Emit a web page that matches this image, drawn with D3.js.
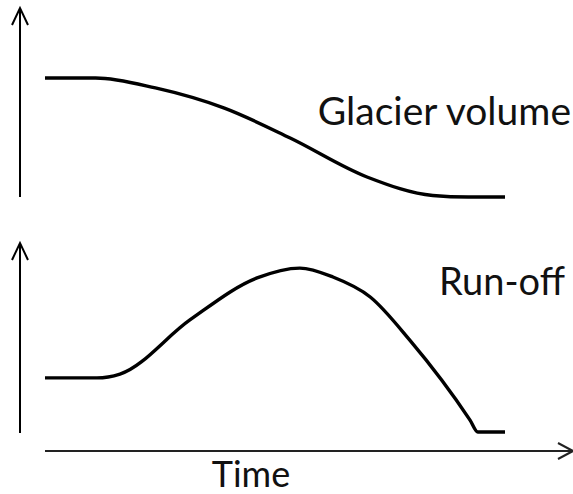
<!DOCTYPE html>
<html>
<head>
<meta charset="utf-8">
<script src="https://cdn.jsdelivr.net/npm/d3@7"></script>
<style>
  html, body { margin: 0; padding: 0; background: #fff; }
  text { font-family: Lato, 'Open Sans', sans-serif; fill: #111; }
</style>
</head>
<body>
<div id="glacier-chart"></div>
<script>
(function(d3) {
  'use strict';

  // time in arbitrary units (0-100)
  var volumeTime = [0, 11, 24, 39, 53.3, 70, 84.3, 92, 100];
  var volumeValues = [63, 63, 57.7, 47, 31.2, 10.6, 0.8, 0, 0];

  var runoffTime = [0, 11.3, 16.3, 31.5, 46.1, 55.4, 62.6, 70.7, 79.3, 92.4, 94.1, 100];
  var runoffValues = [29, 29, 31, 59.5, 81.6, 86.8, 82.1, 71.6, 48.9, 6.8, 0.5, 0.5];

  var labels = { volume: 'Glacier volume', runoff: 'Run-off', time: 'Time' };

  var width = 573;
  var height = 494;

  var svg = d3.select('#glacier-chart')
    .append('svg')
    .attr('width', width)
    .attr('height', height);

  var x = d3.scaleLinear().domain([0, 100]).range([45, 505]);
  var yTop = d3.scaleLinear().domain([0, 100]).range([197, 8]);
  var yBottom = d3.scaleLinear().domain([0, 100]).range([433, 243]);

  var axisX = 20;       // vertical axes position
  var baseY = 451;      // time axis position
  var baseEnd = 573;    // time axis arrow tip

  function zip(ts, vs) {
    return ts.map(function(t, i) { return { t: t, v: vs[i] }; });
  }

  // vertical arrows
  [yTop, yBottom].forEach(function(y) {
    var r = y.range();
    var g = svg.append('g')
      .attr('fill', 'none')
      .attr('stroke', '#000')
      .attr('stroke-width', 2);
    g.append('line')
      .attr('x1', axisX).attr('x2', axisX)
      .attr('y1', r[0]).attr('y2', r[1] + 1);
    g.append('path')
      .attr('d', 'M' + (axisX - 8) + ',' + (r[1] + 17) + 'L' + axisX + ',' + r[1] + 'L' + (axisX + 8) + ',' + (r[1] + 17));
  });

  // time arrow
  var tAxis = svg.append('g')
    .attr('fill', 'none')
    .attr('stroke', '#222')
    .attr('stroke-width', 2);
  tAxis.append('line')
    .attr('x1', x.range()[0]).attr('x2', baseEnd - 1)
    .attr('y1', baseY).attr('y2', baseY);
  tAxis.append('path')
    .attr('d', 'M' + (baseEnd - 15) + ',' + (baseY - 8) + 'L' + baseEnd + ',' + baseY + 'L' + (baseEnd - 15) + ',' + (baseY + 8));

  var lineTop = d3.line()
    .x(function(d) { return x(d.t); })
    .y(function(d) { return yTop(d.v); })
    .curve(d3.curveMonotoneX);

  var lineBottom = d3.line()
    .x(function(d) { return x(d.t); })
    .y(function(d) { return yBottom(d.v); })
    .curve(d3.curveMonotoneX);

  svg.append('path')
    .datum(zip(volumeTime, volumeValues))
    .attr('d', lineTop)
    .attr('fill', 'none')
    .attr('stroke', '#000')
    .attr('stroke-width', 3.4);

  svg.append('path')
    .datum(zip(runoffTime, runoffValues))
    .attr('d', lineBottom)
    .attr('fill', 'none')
    .attr('stroke', '#000')
    .attr('stroke-width', 3.4)
    .attr('stroke-linejoin', 'round');

  svg.append('text')
    .attr('x', 571)
    .attr('y', 125)
    .attr('text-anchor', 'end')
    .attr('font-size', 39)
    .text(labels.volume);

  svg.append('text')
    .attr('x', 565)
    .attr('y', 295)
    .attr('text-anchor', 'end')
    .attr('font-size', 38)
    .text(labels.runoff);

  svg.append('text')
    .attr('x', 251)
    .attr('y', 487)
    .attr('text-anchor', 'middle')
    .attr('font-size', 36)
    .text(labels.time);
})(window.d3);
</script>
</body>
</html>
